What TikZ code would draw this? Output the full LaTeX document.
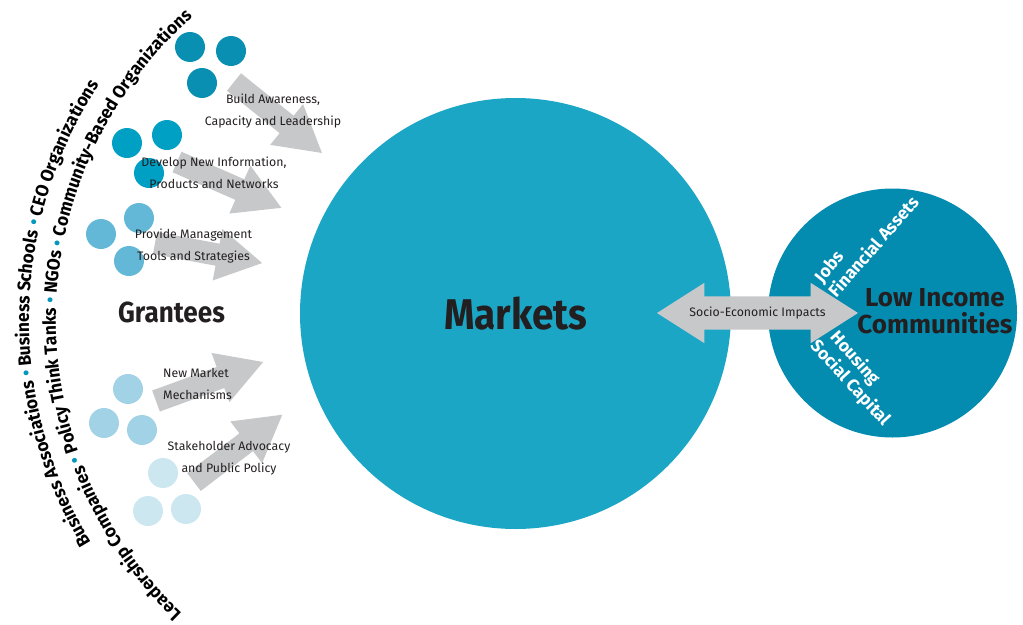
\documentclass[tikz,border=0pt]{standalone}
\usepackage{fontspec}
\setmainfont{Fira Sans}
\newfontfamily\arcfont{Fira Sans}[FakeStretch=0.96]
\newfontfamily\narrowfont{Fira Sans}[FakeStretch=0.9]
\usetikzlibrary{positioning,shapes.arrows,decorations.text}
\definecolor{mktclr}{RGB}{28,166,198}
\definecolor{licclr}{RGB}{4,140,176}
\definecolor{grnA}{RGB}{8,143,178}
\definecolor{grnB}{RGB}{0,160,197}
\definecolor{grnC}{RGB}{98,184,214}
\definecolor{grnD}{RGB}{162,210,230}
\definecolor{grnE}{RGB}{205,231,241}
\definecolor{arrclr}{RGB}{199,200,202}
\definecolor{txtclr}{RGB}{35,31,32}
\definecolor{dotclr}{RGB}{0,150,190}
\newcommand\arcfmt{\arcfont\bfseries\fontsize{18}{18}\selectfont}
\tikzset{ %
  ,every node/.style={text=txtclr}
  ,gdot/.style={draw=none, circle, inner sep=0, minimum size=30pt, fill=#1}
  ,grarrow/.style={single arrow, fill=arrclr, inner xsep=0, inner ysep=11pt, outer sep=0, single arrow head extend=15pt, single arrow tip angle=60, anchor=tail}
  ,dblarr/.style={double arrow, fill=arrclr, inner xsep=0, inner ysep=16.5pt, outer sep=0, double arrow head extend=13.5pt, double arrow tip angle=65}
  ,lbl/.style={font=\fontsize{12.3}{22}\selectfont, align=center, inner sep=0}
  ,wlbl/.style={font=\fontsize{17.5}{17.5}\selectfont\bfseries, text=white, inner sep=0}
  ,arctext/.style={decorate, decoration={text along path, text align=center, text={#1}}}
}

\begin{document}
\begin{tikzpicture}[x=1pt, y=1pt]
  \useasboundingbox (0,0) rectangle (1023,-624);
  % grantees
  \foreach \i/\x/\y/\c in {1/190/47/grnA, 2/231/51/grnA, 3/202/83/grnA,
      4/127/143/grnB, 5/167/135/grnB, 6/149/173/grnB,
      7/139/218/grnC, 8/101/234/grnC, 9/129/261/grnC,
      10/128/389/grnD, 11/104/423/grnD, 12/142/430/grnD,
      13/163/473/grnE, 14/148/511/grnE, 15/186/509/grnE}
    \node[gdot=\c] (g\i) at (\x,-\y) {};
  \node[grarrow, minimum height=113pt, rotate=-38.9] (a1) at (234,-82) {};
  \node[grarrow, minimum height=114pt, rotate=-23.7] (a2) at (177,-162) {};
  \node[grarrow, minimum height=109pt, rotate=-10.6] (a3) at (155,-243) {};
  \node[grarrow, minimum height=114pt, rotate=20] (a4) at (156,-401) {};
  \node[grarrow, minimum height=111pt, rotate=37.3] (a5) at (194,-482) {};
  \node[lbl] (l1) at (273,-111) {Build Awareness,\\Capacity and Leadership};
  \node[lbl] (l2) at (214,-173) {Develop New Information,\\Products and Networks};
  \node[lbl] (l3) at (193.5,-246) {Provide Management\\Tools and Strategies};
  \node[lbl, align=left, anchor=west] (l4) at (163,-384) {New Market\\Mechanisms};
  \node[lbl] (l5) at (229,-458) {Stakeholder Advocacy\\and Public Policy};
  \node[font=\narrowfont\fontsize{29}{29}\selectfont\bfseries, inner sep=0] (grt) at (171.5,-312) {Grantees};
  \path[arctext={|\arcfmt|Business Associations |\arcfmt\color{dotclr}|•|\arcfmt| Business Schools |\arcfmt\color{dotclr}|•|\arcfmt| CEO Organizations}]
    (460,-320) ++(235:431pt) arc[start angle=235, end angle=123, radius=431pt];
  \path[arctext={|\arcfmt|Leadership Companies |\arcfmt\color{dotclr}|•|\arcfmt| Policy Think Tanks |\arcfmt\color{dotclr}|•|\arcfmt| NGOs |\arcfmt\color{dotclr}|•|\arcfmt| Community-Based Organizations}]
    (460,-320) ++(245:404pt) arc[start angle=245, end angle=113, radius=404pt];
  % markets and communities
  \node[circle, fill=mktclr, minimum size=431pt, inner sep=0, font=\narrowfont\fontsize{43}{43}\selectfont\bfseries] (mkt) at (515.5,-313.5) {Markets};
  \node[circle, fill=licclr, minimum size=249pt, inner sep=0] (lic) at (892.5,-313) {};
  \node[dblarr, minimum height=201pt] (sei) at (757.5,-313) {};
  \node[lbl] (seitxt) at (sei) {Socio-Economic Impacts};
  \node[wlbl, rotate=51] (jobs) at (829.5,-267.5) {Jobs};
  \node[wlbl, rotate=48.8] (fin) at (873,-246) {Financial Assets};
  \node[wlbl, rotate=-48.7] (hous) at (854.7,-358.3) {Housing};
  \node[wlbl, rotate=-47.5] (soc) at (850,-383.3) {Social Capital};
  \node[font=\fontsize{26}{27}\selectfont\bfseries, align=center, inner sep=0] (lictxt) at (935,-311.5) {Low Income\\Communities};
\end{tikzpicture}
\end{document}
